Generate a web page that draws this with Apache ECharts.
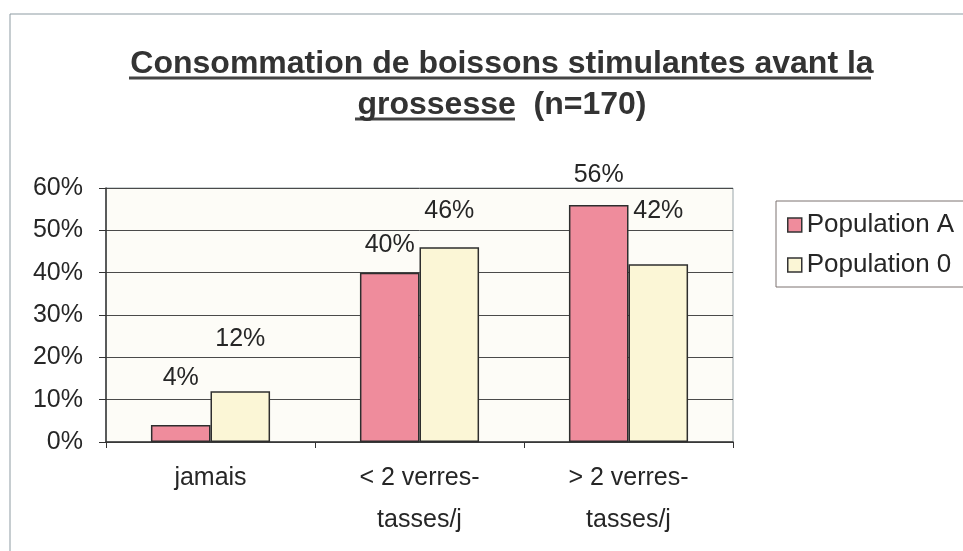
<!DOCTYPE html>
<html>
<head>
<meta charset="utf-8">
<script src="https://cdn.jsdelivr.net/npm/echarts@6/dist/echarts.min.js"></script>
<style>
  html, body { margin: 0; padding: 0; background: #fff; }
  #chart { width: 963px; height: 551px; }
</style>
</head>
<body>
<div id="chart"></div>
<script>
const categories = ['jamais', '< 2 verres-\ntasses/j', '> 2 verres-\ntasses/j']
const popA = [4, 40, 56]
const pop0 = [12, 46, 42]
const yTicks = [0, 10, 20, 30, 40, 50, 60]

// Excel placed the value labels at uneven heights above the bars
const liftA = [34, 15, 17]
const lift0 = [40, 24, 41]

const font = '"Liberation Sans", Arial, sans-serif'
const ink = '#262626'

function withLabels(values, lifts) {
  return values.map((v, i) => ({ value: v, label: { distance: lifts[i] } }))
}

const chart = echarts.init(document.getElementById('chart'))

chart.setOption({
  backgroundColor: '#fff',
  animation: false,
  title: {
    text: 'Consommation de boissons stimulantes avant la\ngrossesse  (n=170)',
    left: 497,
    top: 39,
    textAlign: 'center',
    textStyle: { fontFamily: font, fontSize: 32, fontWeight: 'bold', color: '#333', lineHeight: 41 }
  },
  graphic: [
    { type: 'rect', shape: { x: 10, y: 14, width: 980, height: 560 }, style: { fill: 'none', stroke: '#8d9ba2', lineWidth: 1 }, silent: true },
    { type: 'line', shape: { x1: 129, y1: 78, x2: 871, y2: 78 }, style: { stroke: '#444', lineWidth: 3 } },
    { type: 'line', shape: { x1: 355, y1: 119, x2: 515, y2: 119 }, style: { stroke: '#444', lineWidth: 3 } }
  ],
  legend: {
    orient: 'vertical',
    left: 776,
    top: 201,
    padding: [11, 14, 9, 11],
    itemGap: 14,
    itemWidth: 14,
    itemHeight: 14,
    icon: 'rect',
    backgroundColor: '#fff',
    borderColor: '#7d7370',
    borderWidth: 1,
    borderRadius: 0,
    itemStyle: { borderColor: '#333', borderWidth: 1.5 },
    textStyle: { fontFamily: font, fontSize: 26, color: ink },
    data: ['Population A', 'Population 0']
  },
  grid: {
    left: 106,
    right: 230,
    top: 188,
    bottom: 109,
    show: true,
    backgroundColor: '#fdfcf7',
    borderColor: '#9aa6aa',
    borderWidth: 1
  },
  xAxis: {
    type: 'category',
    data: categories,
    axisLine: { lineStyle: { color: '#333', width: 1.5 } },
    axisTick: { show: true, length: 6, lineStyle: { color: '#333' } },
    axisLabel: { fontFamily: font, fontSize: 25, color: ink, margin: 15, lineHeight: 42, interval: 0 }
  },
  yAxis: {
    type: 'value',
    min: 0,
    max: 60,
    interval: 10,
    axisLine: { show: true, lineStyle: { color: '#333', width: 1.5 } },
    axisTick: { show: true, length: 7, lineStyle: { color: '#333' } },
    splitLine: { lineStyle: { color: '#4a4a4a', width: 1 } },
    axisLabel: {
      fontFamily: font,
      fontSize: 25,
      color: ink,
      margin: 23,
      customValues: yTicks,
      formatter: (v) => v + '%'
    }
  },
  series: [
    {
      name: 'Population A',
      type: 'bar',
      data: withLabels(popA, liftA),
      barGap: '0%',
      barCategoryGap: '43%',
      itemStyle: { color: '#ef8c9c', borderColor: '#2e2e2e', borderWidth: 1.5 },
      label: { show: true, position: 'top', fontFamily: font, fontSize: 25, color: ink, formatter: '{c}%' }
    },
    {
      name: 'Population 0',
      type: 'bar',
      data: withLabels(pop0, lift0),
      itemStyle: { color: '#fbf6d6', borderColor: '#2e2e2e', borderWidth: 1.5 },
      label: { show: true, position: 'top', fontFamily: font, fontSize: 25, color: ink, formatter: '{c}%' }
    }
  ]
})
</script>
</body>
</html>
